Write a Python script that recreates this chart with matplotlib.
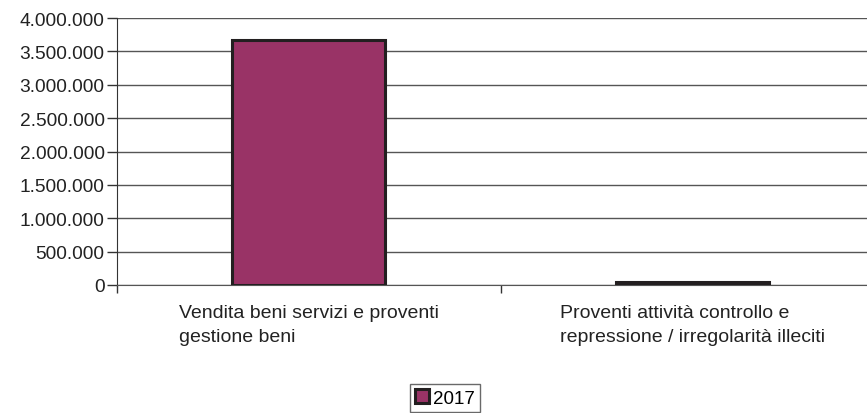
import numpy as np
import matplotlib.pyplot as plt
from matplotlib.ticker import FuncFormatter

categories = ["Vendita beni servizi e proventi\ngestione beni",
              "Proventi attività controllo e\nrepressione / irregolarità illeciti"]
values_2017 = [3670000, 45000]
series_name = "2017"

plt.rcParams['font.family'] = ['Liberation Sans', 'DejaVu Sans']

fig = plt.figure(figsize=(8.67, 4.14), dpi=100)
ax = fig.add_axes([117/867, 1 - 286/414, 767/867, 267/414])

x = np.arange(len(categories))
ax.bar(x, values_2017, width=0.4, color='#993366', edgecolor='#231f20',
       linewidth=2.2, label=series_name, zorder=3)

ax.set_xlim(-0.5, len(categories) - 0.5)
ax.set_ylim(0, 4000000)
ax.set_yticks(np.arange(0, 4000001, 500000))
ax.yaxis.set_major_formatter(FuncFormatter(lambda v, p: f"{int(v):,}".replace(",", ".")))
ax.grid(axis='y', color='#555555', linewidth=1, zorder=0)

# category boundaries get the tick marks, labels sit in the middle
ax.set_xticks(np.arange(-0.5, len(categories), 1.0))
ax.set_xticklabels([])
ax.set_xticks(x, minor=True)
ax.set_xticklabels(categories, minor=True, ha='center', multialignment='left',
                   fontsize=14, color='#222222', linespacing=1.5)
ax.tick_params(axis='x', which='major', length=6, width=1, color='#333333')
ax.tick_params(axis='x', which='minor', length=0, pad=14)
ax.tick_params(axis='y', length=7, width=1, color='#333333', labelsize=13.8,
               labelcolor='#222222', pad=2)

for s in ['top', 'right']:
    ax.spines[s].set_visible(False)
ax.spines['left'].set_color('#333333')
ax.spines['bottom'].set_color('#555555')

fig.legend(loc='center', bbox_to_anchor=(445/867, 1 - 399/414), fontsize=13.5,
           frameon=True, fancybox=False, edgecolor='#444444', handlelength=0.75,
           handleheight=0.75, handletextpad=0.2, borderpad=0.3)

fig.savefig("out.png", dpi=100)
